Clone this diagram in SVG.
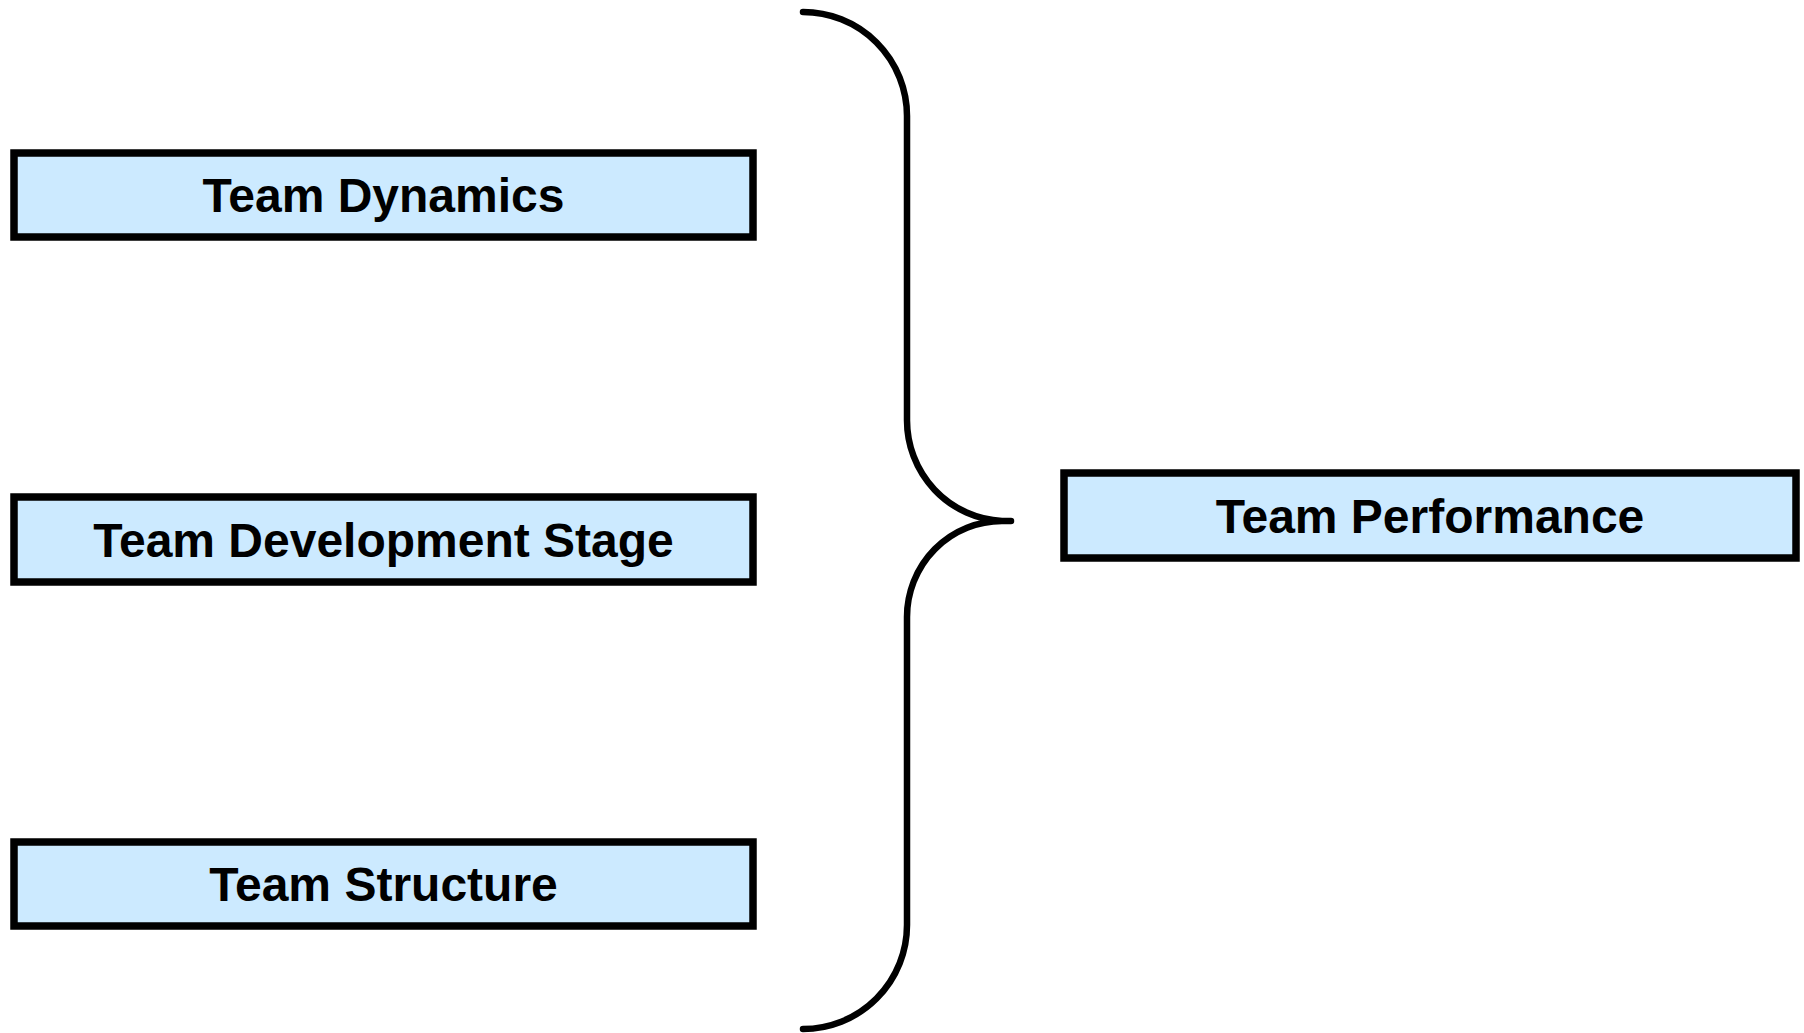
<svg xmlns="http://www.w3.org/2000/svg" width="1804" height="1033" viewBox="0 0 1804 1033">
<style>
.box{fill:#cceaff;stroke:#000;stroke-width:7.5}
.lbl{font-family:"Liberation Sans",Arial,sans-serif;font-weight:bold;font-size:48px;fill:#000;text-anchor:middle}
.brace{fill:none;stroke:#000;stroke-width:6.5;stroke-linecap:round;stroke-linejoin:round}
</style>
<rect width="1804" height="1033" fill="#fff"/>
<g id="team-dynamics">
<rect class="box" x="14" y="153" width="739" height="84"/>
<text class="lbl" x="383.5" y="212">Team Dynamics</text>
</g>
<g id="team-development-stage">
<rect class="box" x="14" y="497" width="739" height="85"/>
<text class="lbl" x="383.5" y="556.5">Team Development Stage</text>
</g>
<g id="team-structure">
<rect class="box" x="14" y="842" width="739" height="84"/>
<text class="lbl" x="383.5" y="901">Team Structure</text>
</g>
<g id="team-performance">
<rect class="box" x="1064" y="473" width="732" height="85"/>
<text class="lbl" x="1430" y="532.5">Team Performance</text>
</g>
<g id="connectors">
<path class="brace" d="M 803 12 A 104 104 0 0 1 907 116 L 907 420 A 100 101 0 0 0 1002 521 L 1011 521 L 1002 521 A 95 96 0 0 0 907 617 L 907 925 A 104 104 0 0 1 803 1029"/>
</g>
</svg>
